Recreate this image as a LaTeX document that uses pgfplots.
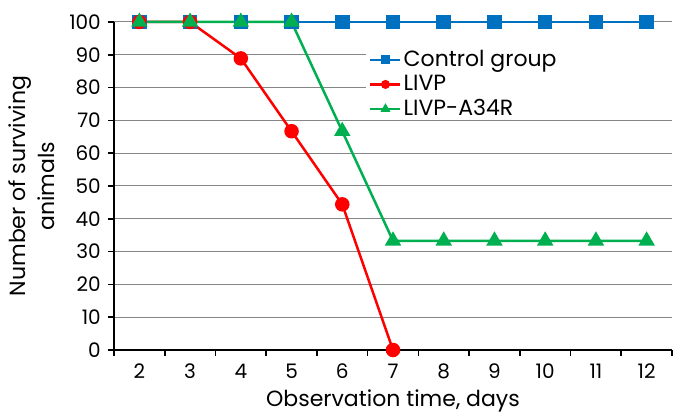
\documentclass[border=0pt]{standalone}
\usepackage{fontspec}
\setmainfont{Poppins}
\usepackage{pgfplots}
\pgfplotsset{compat=1.18}
\definecolor{cblue}{RGB}{0,112,192}
\definecolor{cred}{RGB}{255,0,0}
\definecolor{cgreen}{RGB}{0,176,80}
\definecolor{cgrid}{RGB}{134,134,134}
\begin{document}
\fontsize{18}{22}\selectfont
\begin{tikzpicture}
\begin{axis}[
  name=ax, set layers,
  width=558pt, height=328pt, scale only axis,
  xmin=1.5, xmax=12.5, ymin=0, ymax=100,
  axis x line=bottom, axis y line=left,
  axis line style={-, line width=2pt, black},
  xtick={1.5,2.5,...,12.5},
  x tick label as interval,
  xticklabels={2,3,4,5,6,7,8,9,10,11,12},
  ytick={0,10,...,100},
  ymajorgrids, major grid style={cgrid, line width=1pt},
  tick align=outside, major tick length=6pt,
  tick style={black, line width=1.6pt},
  /pgf/number format/assume math mode=true,
  tick label style={font=\fontsize{20}{22}\selectfont},
  yticklabel style={xshift=-1pt},
  xticklabel style={yshift=-2pt},
  xlabel={Observation time, days},
  ylabel={Number of surviving\\animals},
  label style={font=\fontsize{22}{29}\selectfont},
  xlabel style={at={(axis description cs:0.5,0)}, anchor=base, yshift=-57pt},
  ylabel style={at={(axis description cs:-0.095,0.5)}, anchor=south, align=center},
  clip=false,
  legend style={at={(0.457,0.92)}, anchor=north west, draw=none, fill=white,
    font=\fontsize{22}{24}\selectfont, row sep=2pt, inner sep=0pt,
    nodes={inner ysep=2pt}},
  legend cell align=left,
  legend image code/.code={
    \draw[mark repeat=2, mark phase=2, #1, line width=2.5pt, mark size=3.2pt]
      plot coordinates {(0pt,0pt) (15pt,0pt) (30pt,0pt)};},
  every axis plot/.append style={line width=2.5pt},
]
\begin{pgfonlayer}{pre main}
\fill[white] (rel axis cs:0.452,0.75) rectangle (rel axis cs:1.01,0.96);
\end{pgfonlayer}
\addplot[cblue, mark=square*, mark size=6pt] coordinates {
(2,100) (3,100) (4,100) (5,100) (6,100) (7,100) (8,100) (9,100) (10,100) (11,100) (12,100)};
\addplot[cred, mark=*, mark size=6pt] coordinates {
(2,100) (3,100) (4,88.9) (5,66.7) (6,44.4) (7,0)};
\addplot[cgreen, mark=triangle*, mark size=7pt] coordinates {
(2,100) (3,100) (4,100) (5,100) (6,66.7) (7,33.3) (8,33.3) (9,33.3) (10,33.3) (11,33.3) (12,33.3)};
\legend{Control group, LIVP, LIVP-A34R}
\end{axis}
\pgfresetboundingbox
\path (ax.south west) ++(-114pt,-64pt) rectangle ++(680pt,414pt);
\end{tikzpicture}
\end{document}
